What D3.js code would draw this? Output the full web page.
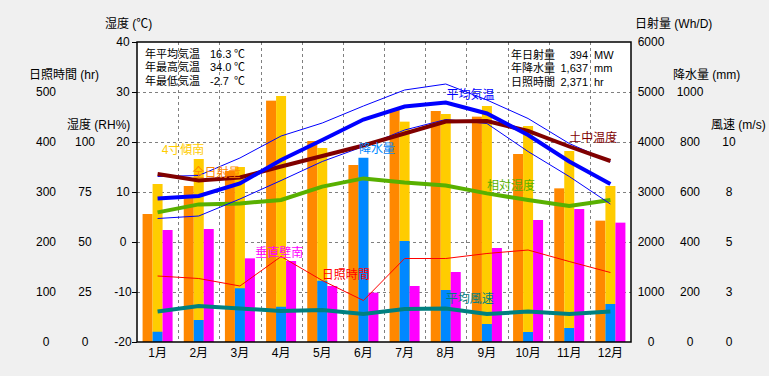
<!DOCTYPE html>
<html>
<head>
<meta charset="utf-8">
<script src="https://cdn.jsdelivr.net/npm/d3@7"></script>
<style>
  body { margin: 0; background: #f0f0f0; }
  svg { display: block; }
</style>
</head>
<body>
<div id="chart"></div>
<script>
const months = ["1月", "2月", "3月", "4月", "5月", "6月", "7月", "8月", "9月", "10月", "11月", "12月"];

// 日射量 (Wh/D)
const globalSolar = [2560, 3120, 3420, 4827, 4020, 3540, 4640, 4620, 4507, 3760, 3073, 2427];
const tilt4South = [3160, 3660, 3500, 4920, 3880, 3300, 4407, 4560, 4720, 4320, 3820, 3120];
const wallSouth = [2240, 2260, 1673, 1620, 1120, 987, 1120, 1400, 1880, 2440, 2660, 2387];
// 降水量 (mm)
const precip = [41, 88, 215, 141, 245, 737, 404, 208, 72, 40, 56, 152];
// 日照時間 (hr)
const sunHours = [132, 127, 112, 171, 123, 83, 167, 167, 177, 184, 161, 139];
// 相対湿度 (RH%)
const humidity = [64.8, 68.8, 69.3, 71, 77.7, 81.8, 79.7, 78.2, 74.3, 71, 68, 71];
// 平均風速 (m/s)
const windSpeed = [1.52, 1.8, 1.68, 1.55, 1.6, 1.4, 1.65, 1.68, 1.4, 1.52, 1.4, 1.52];
// 気温 (℃)
const tempMax = [13.1, 13.3, 16.8, 21.2, 23.8, 27.2, 30.4, 31.6, 28.4, 24.7, 19.7, 16.1];
const tempAvg = [8.7, 9.2, 11.7, 16.4, 20.4, 24.5, 27.1, 27.9, 25.7, 21.4, 16.1, 11.6];
const tempMin = [4.7, 5.2, 8.6, 12.3, 16.1, 19.1, 22.4, 24.5, 23.7, 18.1, 13.1, 7.6];
const soilTemp = [13.6, 12.3, 12.9, 15.1, 17.2, 19.3, 21.7, 24.1, 24.2, 22.2, 19.1, 16.2];

const summaryLeft = [["年平均気温", "16.3", "℃"], ["年最高気温", "34.0", "℃"], ["年最低気温", "-2.7", "℃"]];
const summaryRight = [["年日射量", "394", "MW"], ["年降水量", "1,637", "mm"], ["日照時間", "2,371", "hr"]];

const tempTicks = [-20, -10, 0, 10, 20, 30, 40];
const gridTemps = [-10, 0, 10, 20, 30];
const sunTicks = [0, 100, 200, 300, 400, 500];
const rhTicks = [0, 25, 50, 75, 100];
const solarTicks = [0, 1000, 2000, 3000, 4000, 5000, 6000];
const precipTicks = [0, 200, 400, 600, 800, 1000];
const windTicks = [0, 2.5, 5, 7.5, 10];
const windTickLabels = ["0", "3", "5", "8", "10"];

const W = 769, H = 376;
const plot = { left: 137, right: 631, top: 42, bottom: 342 };
const font = "'Liberation Sans', 'Noto Sans CJK JP', sans-serif";

const svg = d3.select("#chart").append("svg")
  .attr("width", W).attr("height", H)
  .style("font-family", font)
  .style("font-size", "12px");

const x = d3.scaleBand().domain(months).range([plot.left, plot.right]).padding(0);
const xm = d3.scaleLinear().domain([0, 12]).range([plot.left, plot.right]);
const slot = d3.scaleBand().domain(["a", "b", "c"]).range([-15, 15]);
const cx = i => x(months[i]) + x.bandwidth() / 2;

const yTemp = d3.scaleLinear().domain([-20, 40]).range([plot.bottom, plot.top]);
const ySun = d3.scaleLinear().domain([0, 500]).range([plot.bottom, 92]);
const yRH = d3.scaleLinear().domain([0, 100]).range([plot.bottom, 142]);
const ySolar = d3.scaleLinear().domain([0, 6000]).range([plot.bottom, plot.top]);
const yPrec = d3.scaleLinear().domain([0, 1000]).range([plot.bottom, 92]);
const yWind = d3.scaleLinear().domain([0, 10]).range([plot.bottom, 142]);

// plot background
svg.append("rect")
  .attr("x", plot.left).attr("y", plot.top)
  .attr("width", plot.right - plot.left).attr("height", plot.bottom - plot.top)
  .attr("fill", "#fff");

// grid
const grid = svg.append("g").attr("stroke", "#808080").attr("stroke-dasharray", "3,3");
grid.selectAll("line.h").data(gridTemps).enter().append("line")
  .attr("x1", plot.left).attr("x2", plot.right)
  .attr("y1", d => Math.round(yTemp(d)) + 0.5).attr("y2", d => Math.round(yTemp(d)) + 0.5);
grid.selectAll("line.v").data(d3.range(1, 12)).enter().append("line")
  .attr("x1", d => Math.round(xm(d)) + 0.5).attr("x2", d => Math.round(xm(d)) + 0.5)
  .attr("y1", plot.top).attr("y2", plot.bottom);

// bars
function bars(values, scale, slotKey, color) {
  svg.append("g").selectAll("rect")
    .data(values).enter().append("rect")
    .attr("x", (d, i) => cx(i) + slot(slotKey))
    .attr("width", slot.bandwidth())
    .attr("y", d => scale(d))
    .attr("height", d => plot.bottom - scale(d))
    .attr("fill", color);
}
bars(globalSolar, ySolar, "a", "#ff8800");
bars(tilt4South, ySolar, "b", "#ffcc00");
bars(precip, yPrec, "b", "#0088ff");
bars(wallSouth, ySolar, "c", "#ff00ff");

// lines
function series(values, scale, color, width) {
  const line = d3.line().x((d, i) => cx(i)).y(d => scale(d));
  svg.append("path")
    .datum(values)
    .attr("d", line)
    .attr("fill", "none")
    .attr("stroke", color)
    .attr("stroke-width", width);
}
series(sunHours, ySun, "#ff0000", 1);
series(windSpeed, yWind, "#008080", 4);
series(humidity, yRH, "#58b000", 4);
series(tempMax, yTemp, "#0000ff", 1);
series(tempMin, yTemp, "#0000ff", 1);
series(soilTemp, yTemp, "#800000", 4);
series(tempAvg, yTemp, "#0000ff", 4);

// series labels (month position, ℃ position)
const labels = [
  { text: "4寸傾南", m: 0.6, t: 18.4, color: "#ffcc00" },
  { text: "全日射量", m: 1.35, t: 13.9, color: "#ff8800" },
  { text: "降水量", m: 5.39, t: 18.7, color: "#0088ff" },
  { text: "平均気温", m: 7.52, t: 29.4, color: "#0000ff" },
  { text: "土中温度", m: 10.5, t: 20.9, color: "#800000" },
  { text: "相対湿度", m: 8.5, t: 11.3, color: "#58b000" },
  { text: "垂直壁南", m: 2.87, t: -2.1, color: "#ff00ff" },
  { text: "日照時間", m: 4.49, t: -6.5, color: "#ff0000" },
  { text: "平均風速", m: 7.5, t: -11.4, color: "#008080" }
];
svg.append("g").selectAll("text").data(labels).enter().append("text")
  .attr("x", d => xm(d.m)).attr("y", d => yTemp(d.t))
  .attr("dy", "0.35em")
  .attr("fill", d => d.color)
  .style("font-size", "12px")
  .text(d => d.text);

// summary boxes
const sumL = svg.append("g").style("font-size", "11px");
summaryLeft.forEach((r, i) => {
  const yy = 54 + i * 13.5;
  sumL.append("text").attr("x", 145).attr("y", yy).attr("dy", "0.35em").text(r[0]);
  sumL.append("text").attr("x", 210).attr("y", yy).attr("dy", "0.35em").text(r[1]);
  sumL.append("text").attr("x", 234).attr("y", yy).attr("dy", "0.35em").text(r[2]);
});
const sumR = svg.append("g").style("font-size", "11px");
summaryRight.forEach((r, i) => {
  const yy = 55 + i * 13.5;
  sumR.append("text").attr("x", 511).attr("y", yy).attr("dy", "0.35em").text(r[0]);
  sumR.append("text").attr("x", 588).attr("y", yy).attr("dy", "0.35em").attr("text-anchor", "end").text(r[1]);
  sumR.append("text").attr("x", 594).attr("y", yy).attr("dy", "0.35em").text(r[2]);
});

// plot frame
svg.append("rect")
  .attr("x", plot.left).attr("y", plot.top)
  .attr("width", plot.right - plot.left).attr("height", plot.bottom - plot.top)
  .attr("fill", "none").attr("stroke", "#000").attr("stroke-width", 1.5);

// axes
function valueAxis(scale, ticks, labelX, fmt) {
  const g = svg.append("g")
    .call(d3.axisLeft(scale).tickValues(ticks).tickSize(0).tickFormat(fmt || (d => d)));
  g.attr("font-family", font).attr("font-size", 12);
  g.select(".domain").remove();
  g.selectAll("text").attr("text-anchor", "middle").attr("x", labelX);
  return g;
}
const tAxis = svg.append("g")
  .attr("transform", `translate(${plot.left},0)`)
  .call(d3.axisLeft(yTemp).tickValues(tempTicks).tickSize(5));
tAxis.attr("font-family", font).attr("font-size", 12);
tAxis.select(".domain").remove();
tAxis.selectAll("text").attr("text-anchor", "middle").attr("x", -14).text(d => d < 0 ? "-" + Math.abs(d) : d);

valueAxis(ySun, sunTicks, 46);
valueAxis(yRH, rhTicks, 85);
valueAxis(ySolar, solarTicks, 651);
valueAxis(yPrec, precipTicks, 690);
valueAxis(yWind, windTicks, 729, (d, i) => windTickLabels[i]);

const mAxis = svg.append("g")
  .attr("transform", `translate(0,${plot.bottom})`)
  .call(d3.axisBottom(x).tickSize(0).tickPadding(6));
mAxis.attr("font-family", font).attr("font-size", 12);
mAxis.select(".domain").remove();

// axis titles
const titles = [
  { text: "湿度 (℃)", x: 105, y: 24 },
  { text: "日照時間 (hr)", x: 29, y: 75 },
  { text: "湿度 (RH%)", x: 67, y: 125 },
  { text: "日射量 (Wh/D)", x: 635, y: 24 },
  { text: "降水量 (mm)", x: 673, y: 75 },
  { text: "風速 (m/s)", x: 711, y: 125 }
];
svg.append("g").selectAll("text").data(titles).enter().append("text")
  .attr("x", d => d.x).attr("y", d => d.y).attr("dy", "0.35em")
  .text(d => d.text);
</script>
</body>
</html>
